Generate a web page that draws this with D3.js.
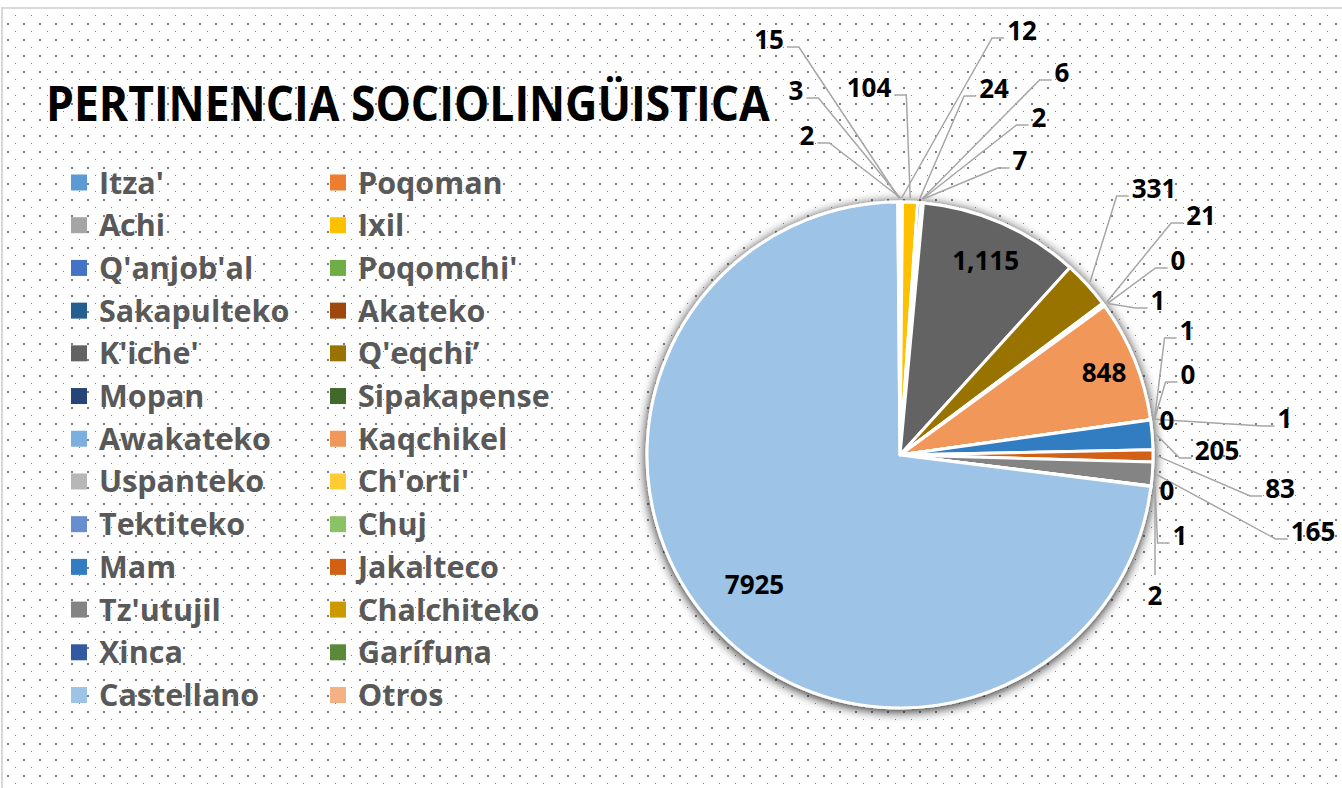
<!DOCTYPE html>
<html>
<head>
<meta charset="utf-8">
<script src="https://cdn.jsdelivr.net/npm/d3@7"></script>
<style>
body { margin: 0; background: #fff; }
text { font-family: "Open Sans", "Noto Sans", sans-serif; font-weight: bold; }
</style>
</head>
<body>
<svg id="chart"></svg>
<script>
var categories = ["Itza'", "Poqoman", "Achi", "Ixil", "Q'anjob'al", "Poqomchi'", "Sakapulteko", "Akateko",
    "K'iche'", "Q'eqchi’", "Mopan", "Sipakapense", "Awakateko", "Kaqchikel", "Uspanteko", "Ch'orti'",
    "Tektiteko", "Chuj", "Mam", "Jakalteco", "Tz'utujil", "Chalchiteko", "Xinca", "Garífuna", "Castellano", "Otros"];
var values = [3, 2, 12, 104, 24, 6, 2, 7,
    1115, 331, 21, 0, 1, 848, 1, 0,
    0, 1, 205, 83, 165, 0, 1, 2, 7925, 15];
var colors = ["#5B9BD5", "#ED7D31", "#A5A5A5", "#FFC000", "#4472C4", "#70AD47", "#255E91", "#9E480E",
    "#636363", "#997300", "#264478", "#43682B", "#7CAFDD", "#F1975A", "#B7B7B7", "#FFCD33",
    "#698ED0", "#8CC168", "#327DC2", "#D26012", "#848484", "#CC9A00", "#335AA1", "#5A8A39", "#9DC3E6", "#F4B183"];
var title = "PERTINENCIA SOCIOLINGÜISTICA";

// where each data label sits (text centre); r = inside label at that fraction of the radius
var labelPlace = [
    {x: 796, y: 91}, {x: 807, y: 136}, {x: 1022, y: 31}, {x: 869, y: 88},
    {x: 994, y: 89}, {x: 1062, y: 73}, {x: 1039, y: 118}, {x: 1020, y: 161},
    {r: 0.84}, {x: 1154, y: 189}, {x: 1201, y: 216}, {x: 1178, y: 261},
    {x: 1158, y: 301}, {r: 0.87}, {x: 1187, y: 331}, {x: 1188, y: 375},
    {x: 1167, y: 421, noLine: true}, {x: 1285, y: 419}, {x: 1217, y: 451}, {x: 1280, y: 489},
    {x: 1313, y: 532}, {x: 1167, y: 491, noLine: true}, {x: 1180, y: 536}, {x: 1155, y: 596, below: true},
    {r: 0.77}, {x: 769, y: 40}
];

var width = 1342,
    height = 788,
    cx = 900,
    cy = 455,
    radius = 253

var svg = d3.select("#chart")
    .attr("width", width)
    .attr("height", height)

var defs = svg.append("defs")
var pat = defs.append("pattern")
    .attr("id", "dots")
    .attr("patternUnits", "userSpaceOnUse")
    .attr("width", 16)
    .attr("height", 16)
pat.append("rect").attr("x", 15).attr("y", 15).attr("width", 2).attr("height", 2).attr("fill", "#7f7f7f")
pat.append("rect").attr("x", 7).attr("y", 7).attr("width", 2).attr("height", 2).attr("fill", "#7f7f7f")

var shadow = defs.append("filter")
    .attr("id", "shadow")
    .attr("x", "-20%").attr("y", "-20%")
    .attr("width", "140%").attr("height", "140%")
shadow.append("feGaussianBlur").attr("in", "SourceAlpha").attr("stdDeviation", 6).attr("result", "blur")
shadow.append("feOffset").attr("in", "blur").attr("dy", 2).attr("result", "off")
shadow.append("feComponentTransfer").attr("in", "off").attr("result", "soft")
    .append("feFuncA").attr("type", "linear").attr("slope", 0.9)
var merge = shadow.append("feMerge")
merge.append("feMergeNode").attr("in", "soft")
merge.append("feMergeNode").attr("in", "SourceGraphic")

// background with dotted fill and light border
svg.append("rect")
    .attr("x", 2).attr("y", 8)
    .attr("width", width + 10).attr("height", height + 10)
    .attr("fill", "url(#dots)")
    .attr("stroke", "#d9d9d9")
    .attr("stroke-width", 2)

// title, squeezed horizontally to the reference width
var titleText = svg.append("text")
    .attr("font-size", 49)
    .attr("fill", "#000")
    .text(title)
var natural = titleText.node().getComputedTextLength()
titleText.attr("transform", "translate(46,121) scale(" + (724 / natural) + ",1)")

// legend, two columns read row by row
var legendX = d3.scaleOrdinal().domain([0, 1]).range([71, 330])
var legendY = d3.scaleLinear().domain([0, 12]).range([182.5, 695])
var legend = svg.append("g")
    .attr("class", "legend")
    .selectAll("g")
    .data(categories)
    .enter().append("g")
    .attr("transform", function (d, i) {
        return "translate(" + legendX(i % 2) + "," + legendY(Math.floor(i / 2)) + ")";
    })
legend.append("rect")
    .attr("x", 0).attr("y", -8)
    .attr("width", 16).attr("height", 16)
    .attr("fill", function (d, i) { return colors[i]; })
legend.append("text")
    .attr("x", 28)
    .attr("y", 11)
    .attr("font-size", 30.5)
    .attr("fill", "#595959")
    .text(function (d) { return d; })

// pie
var pie = d3.pie().sort(null).value(function (d) { return d; })
var arcs = pie(values)
var arc = d3.arc().innerRadius(0).outerRadius(radius)

var pieG = svg.append("g")
    .attr("transform", "translate(" + cx + "," + cy + ")")
pieG.append("g")
    .attr("filter", "url(#shadow)")
    .selectAll("path")
    .data(arcs)
    .enter().append("path")
    .attr("d", arc)
    .attr("fill", function (d, i) { return colors[i]; })
    .attr("stroke", "#ffffff")
    .attr("stroke-width", 3)
    .attr("stroke-linejoin", "round")

// data labels
var fmt = d3.format(",")
function labelText(i) {
    return categories[i] === "Castellano" ? String(values[i]) : fmt(values[i]);
}
function edgePoint(d, r) {
    var a = (d.startAngle + d.endAngle) / 2;
    return [cx + r * Math.sin(a), cy - r * Math.cos(a)];
}

var lines = svg.append("g").attr("class", "leaders")
var labels = svg.append("g").attr("class", "labels")

arcs.forEach(function (d, i) {
    var p = labelPlace[i];
    var t = labels.append("text")
        .attr("text-anchor", "middle")
        .attr("dy", "0.36em")
        .attr("font-size", 26)
        .attr("fill", "#000")
        .text(labelText(i));
    if (p.r) {
        var c = edgePoint(d, radius * p.r);
        t.attr("x", c[0]).attr("y", c[1]);
        return;
    }
    t.attr("x", p.x).attr("y", p.y);
    if (p.noLine) return;
    var w = t.node().getComputedTextLength();
    var target = edgePoint(d, radius + 4);
    var pts;
    if (p.below) {
        pts = [[p.x, p.y - 21], target];
    } else {
        var side = target[0] < p.x ? -1 : 1;
        var sx = p.x + side * (w / 2 + 3);
        var sy = p.y + 7;
        pts = [[sx, sy], [sx + side * 12, sy], target];
    }
    lines.append("polyline")
        .attr("points", pts.map(function (q) { return q.join(","); }).join(" "))
        .attr("fill", "none")
        .attr("stroke", "#a6a6a6")
        .attr("stroke-width", 1.5)
})
</script>
</body>
</html>
